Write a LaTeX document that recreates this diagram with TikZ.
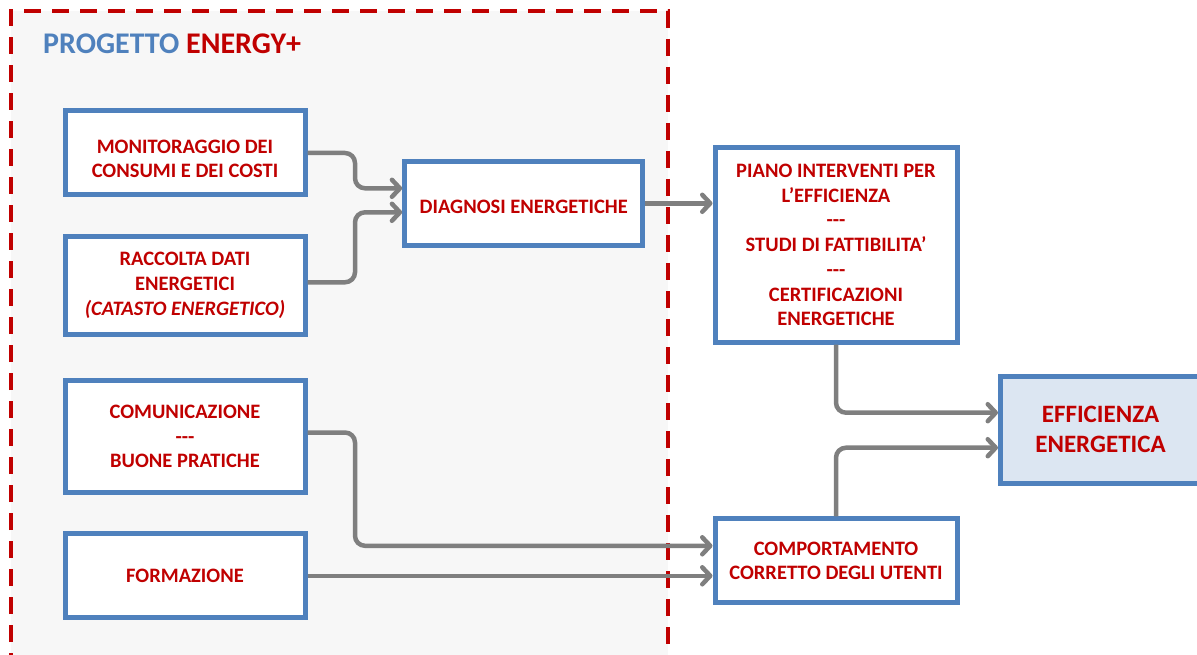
\documentclass[tikz,border=0pt]{standalone}
\usepackage{fontspec}
\setmainfont{Carlito}
\usetikzlibrary{arrows.meta}
\definecolor{boxblue}{RGB}{79,129,189}
\definecolor{titlered}{RGB}{192,0,0}
\definecolor{arrowgray}{RGB}{127,127,127}
\definecolor{areagray}{RGB}{247,247,247}
\definecolor{goalfill}{RGB}{220,230,242}

\begin{document}
\begin{tikzpicture}[x=1pt, y=-1pt,
    box/.style={draw=boxblue, line width=5pt, fill=white, align=center, text=titlered,
        font=\fontsize{20.5}{24.7}\selectfont\bfseries, minimum width=240pt, inner sep=0pt},
    flow/.style={draw=arrowgray, line width=4.5pt, rounded corners=10pt,
        -{Straight Barb[round,length=8pt,width=17pt]}}]
    \useasboundingbox (0,0) rectangle (1197,655);
    \clip (0,0) rectangle (1197,655);

    % Project area
    \fill[areagray] (11,11) rectangle (668,670);
    \draw[titlered, line width=4pt, dash pattern=on 17pt off 11pt] (11,670) -- (11,11) -- (668,11) -- (668,670);
    \node[anchor=base west, inner sep=0pt, font=\fontsize{30}{36}\selectfont\bfseries] (title) at (43,53.3)
        {\textcolor{boxblue}{PROGETTO} \textcolor{titlered}{ENERGY+}};

    % Activities
    \node[box, minimum height=84pt] (mon) at (185,153) {\rule{0pt}{25pt}MONITORAGGIO DEI\\CONSUMI E DEI COSTI};
    \node[box, minimum height=98pt] (rac) at (185,285.3) {RACCOLTA DATI\\ENERGETICI\\\textit{(CATASTO ENERGETICO)}};
    \node[box, minimum height=112pt] (com) at (185,436.5) {COMUNICAZIONE\\-{}-{}-\\BUONE PRATICHE};
    \node[box, minimum height=84pt] (form) at (185,575.8) {FORMAZIONE};
    \node[box, minimum width=238pt, minimum height=84pt] (diag) at (523.7,203.3) {\rule{0pt}{21pt}DIAGNOSI ENERGETICHE};

    % Results
    \node[box, minimum width=242pt, minimum height=194pt] (piano) at (836,245)
        {PIANO INTERVENTI PER\\L'EFFICIENZA\\-{}-{}-\\STUDI DI FATTIBILITA'\\-{}-{}-\\CERTIFICAZIONI\\ENERGETICHE};
    \node[box, minimum width=242pt, minimum height=84pt] (comp) at (836,560.8) {COMPORTAMENTO\\CORRETTO DEGLI UTENTI};
    \node[box, fill=goalfill, minimum width=200pt, minimum height=107pt,
        font=\fontsize{25}{30}\selectfont\bfseries] (goal) at (1100.5,429.7) {EFFICIENZA\\ENERGETICA};

    % Connections
    \draw[flow] (mon.east) -- ++(47.5,0) |- ([yshift=15pt]diag.west);
    \draw[flow] ([yshift=3pt]rac.east) -- ++(47.5,0) |- ([yshift=-9pt]diag.west);
    \draw[flow] (diag.east) -- (diag.east -| piano.west);
    \draw[flow] (piano.south) |- ([yshift=17pt]goal.west);
    \draw[flow] (comp.north) |- ([yshift=-18pt]goal.west);
    \draw[flow] ([yshift=4pt]com.east) -- ++(47.5,0) |- ([yshift=15pt]comp.west);
    \draw[flow] (form.east) -- (form.east -| comp.west);

\end{tikzpicture}
\end{document}
